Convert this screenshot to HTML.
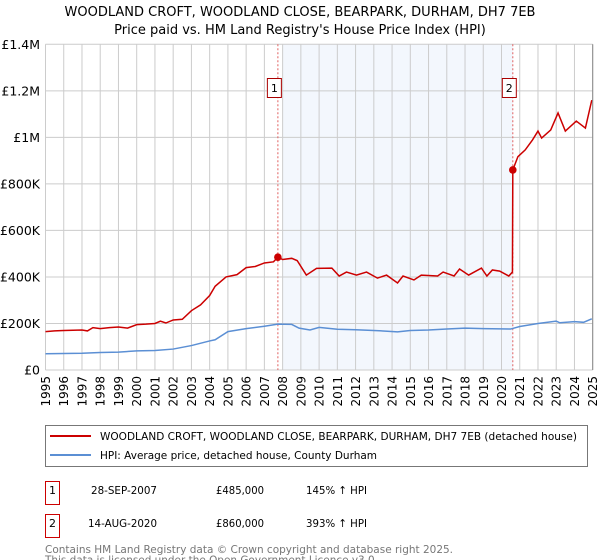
<!DOCTYPE html>
<html><head><meta charset="utf-8"><style>
body{margin:0;background:#fff;font-family:"DejaVu Sans","Liberation Sans",sans-serif;overflow:hidden}
svg{display:block}
</style></head><body>
<svg id="c" width="600" height="560" viewBox="0 0 600 560" font-family="DejaVu Sans, Liberation Sans, sans-serif">
<text x="300" y="16" text-anchor="middle" font-size="13" fill="#000">WOODLAND CROFT, WOODLAND CLOSE, BEARPARK, DURHAM, DH7 7EB</text>
<text x="300" y="34" text-anchor="middle" font-size="13" fill="#000">Price paid vs. HM Land Registry's House Price Index (HPI)</text>
<g id="plot"></g>
<g>
<rect x="45.5" y="425.5" width="542" height="41" fill="#fff" stroke="#777"/>
<line x1="50" y1="436" x2="91" y2="436" stroke="#cc0000" stroke-width="2"/>
<text x="100" y="440" font-size="11" textLength="477" lengthAdjust="spacingAndGlyphs">WOODLAND CROFT, WOODLAND CLOSE, BEARPARK, DURHAM, DH7 7EB (detached house)</text>
<line x1="50" y1="455" x2="91" y2="455" stroke="#5b8fd4" stroke-width="2"/>
<text x="100" y="459" font-size="11" textLength="277" lengthAdjust="spacingAndGlyphs">HPI: Average price, detached house, County Durham</text>
</g>
<g font-size="11">
<rect x="45.5" y="481.5" width="14" height="23" fill="#fff" stroke="#cc0000"/>
<text x="52.5" y="494" text-anchor="middle">1</text>
<text x="91" y="494" textLength="66" lengthAdjust="spacingAndGlyphs">28-SEP-2007</text>
<text x="216" y="494" textLength="48" lengthAdjust="spacingAndGlyphs">£485,000</text>
<text x="306" y="494" textLength="61" lengthAdjust="spacingAndGlyphs">145% ↑ HPI</text>
<rect x="45.5" y="514.5" width="14" height="23" fill="#fff" stroke="#cc0000"/>
<text x="52.5" y="527" text-anchor="middle">2</text>
<text x="88" y="527" textLength="69" lengthAdjust="spacingAndGlyphs">14-AUG-2020</text>
<text x="216" y="527" textLength="48" lengthAdjust="spacingAndGlyphs">£860,000</text>
<text x="306" y="527" textLength="61" lengthAdjust="spacingAndGlyphs">393% ↑ HPI</text>
</g>
<text x="45" y="553" font-size="11" fill="#777" textLength="408" lengthAdjust="spacingAndGlyphs">Contains HM Land Registry data © Crown copyright and database right 2025.</text>
<text x="45" y="563.5" font-size="11" fill="#777" textLength="333" lengthAdjust="spacingAndGlyphs">This data is licensed under the Open Government Licence v3.0.</text>
</svg>
<script>
const yTicks=[0,200000,400000,600000,800000,1000000,1200000,1400000];
const yTickLabels=["£0","£200K","£400K","£600K","£800K","£1M","£1.2M","£1.4M"];
const xYears=[1995,1996,1997,1998,1999,2000,2001,2002,2003,2004,2005,2006,2007,2008,2009,2010,2011,2012,2013,2014,2015,2016,2017,2018,2019,2020,2021,2022,2023,2024,2025];
const propT=[1995,1995.5,1996,1996.5,1997,1997.3,1997.6,1998,1998.5,1999,1999.5,2000,2000.5,2001,2001.3,2001.6,2002,2002.5,2003,2003.5,2004,2004.3,2004.9,2005.5,2006,2006.5,2007,2007.5,2007.74,2008,2008.5,2008.8,2009.3,2009.86,2010.7,2011.1,2011.5,2012.05,2012.6,2013.2,2013.7,2014.3,2014.6,2015.2,2015.6,2016.5,2016.8,2017.4,2017.7,2018.2,2018.9,2019.2,2019.5,2019.9,2020.4,2020.6,2020.62,2020.9,2021.3,2021.7,2022.0,2022.2,2022.7,2023.1,2023.5,2024.1,2024.6,2024.95];
const propV=[165000,168000,170000,171000,172000,168000,182000,178000,182000,185000,180000,195000,197000,200000,210000,202000,215000,218000,255000,280000,320000,360000,400000,410000,440000,445000,460000,465000,485000,475000,480000,470000,408000,437000,438000,404000,421000,408000,421000,395000,408000,374000,404000,387000,408000,404000,421000,404000,434000,408000,438000,404000,430000,425000,404000,421000,860000,917000,946000,989000,1027000,997000,1032000,1105000,1027000,1070000,1040000,1160000];
const hpiT=[1995,1996,1997,1998,1999,2000,2001,2002,2003,2004,2004.3,2005,2006,2007,2007.74,2008.5,2008.9,2009.5,2010,2011,2012,2013,2014.3,2015,2016,2017,2018,2019,2020.5,2021,2022,2023,2023.2,2024,2024.5,2024.95];
const hpiV=[70000,71000,72000,75000,77000,82000,84000,90000,105000,125000,130000,165000,178000,188000,197000,196000,180000,172000,183000,175000,173000,170000,164000,170000,172000,176000,180000,178000,176000,187000,200000,210000,203000,208000,205000,220000];
const sales=[{n:"1",t:2007.74,v:485000},{n:"2",t:2020.62,v:860000}];
const X0=45.5,X1=592.7,Y0=370,Y1=44.3;
const sx=t=>X0+(t-1995)/(2025-1995)*(X1-X0);
const sy=v=>Y0-v/1400000*(Y0-Y1);
const NS="http://www.w3.org/2000/svg";
const g=document.getElementById('plot');
function mk(tag,at){const e=document.createElementNS(NS,tag);for(const k in at)e.setAttribute(k,at[k]);g.appendChild(e);return e;}
let bg=mk('rect',{x:X0,y:Y1,width:X1-X0,height:Y0-Y1,fill:'#fff'});


let sh=mk('rect',{x:sx(2008),y:Y1,width:sx(sales[1].t)-sx(2008),height:Y0-Y1,fill:'#eef3fc',opacity:0.7});


xYears.forEach(yr=>{
  let l=mk('line',{x1:sx(yr),x2:sx(yr),y1:Y1,y2:Y0,stroke:'#ccc','stroke-width':1});
  
  
  let t=mk('text',{x:0,y:0,'font-size':12,'text-anchor':'end',transform:`translate(${sx(yr)+4.5},376) rotate(-90)`});
  t.textContent=yr;
  
  
});
yTicks.forEach((v,i)=>{
  let l=mk('line',{x1:X0,x2:X1,y1:sy(v),y2:sy(v),stroke:'#ccc','stroke-width':1});
  
  
  let t=mk('text',{x:40,y:sy(v)+4.5,'font-size':12.5,'text-anchor':'end'});
  t.textContent=yTickLabels[i];
  
  
});
sales.forEach(s=>{
  let l=mk('line',{x1:sx(s.t),x2:sx(s.t),y1:Y1,y2:Y0,stroke:'#e06060','stroke-width':1,'stroke-dasharray':'2,2'});
  
  
  let r=mk('rect',{x:sx(s.t)-10.5,y:78.5,width:14,height:19,fill:'#fff',stroke:'#aa0000'});
  
  
  let t=mk('text',{x:sx(s.t)-3.5,y:92,'font-size':11,'text-anchor':'middle'});
  t.textContent=s.n;
  
  
});
let hp=mk('polyline',{points:hpiT.map((t,i)=>sx(t)+','+sy(hpiV[i])).join(' '),fill:'none',stroke:'#5b8fd4','stroke-width':1.5});


let pp=mk('polyline',{points:propT.map((t,i)=>sx(t)+','+sy(propV[i])).join(' '),fill:'none',stroke:'#cc0000','stroke-width':1.5});


sales.forEach(s=>{
  let c=mk('circle',{cx:sx(s.t),cy:sy(s.v),r:3.8,fill:'#cc0000'});
  
  
});
let ax=mk('line',{x1:X1,x2:X1,y1:Y1,y2:Y0,stroke:'#888','stroke-width':1});


</script>
</body></html>
